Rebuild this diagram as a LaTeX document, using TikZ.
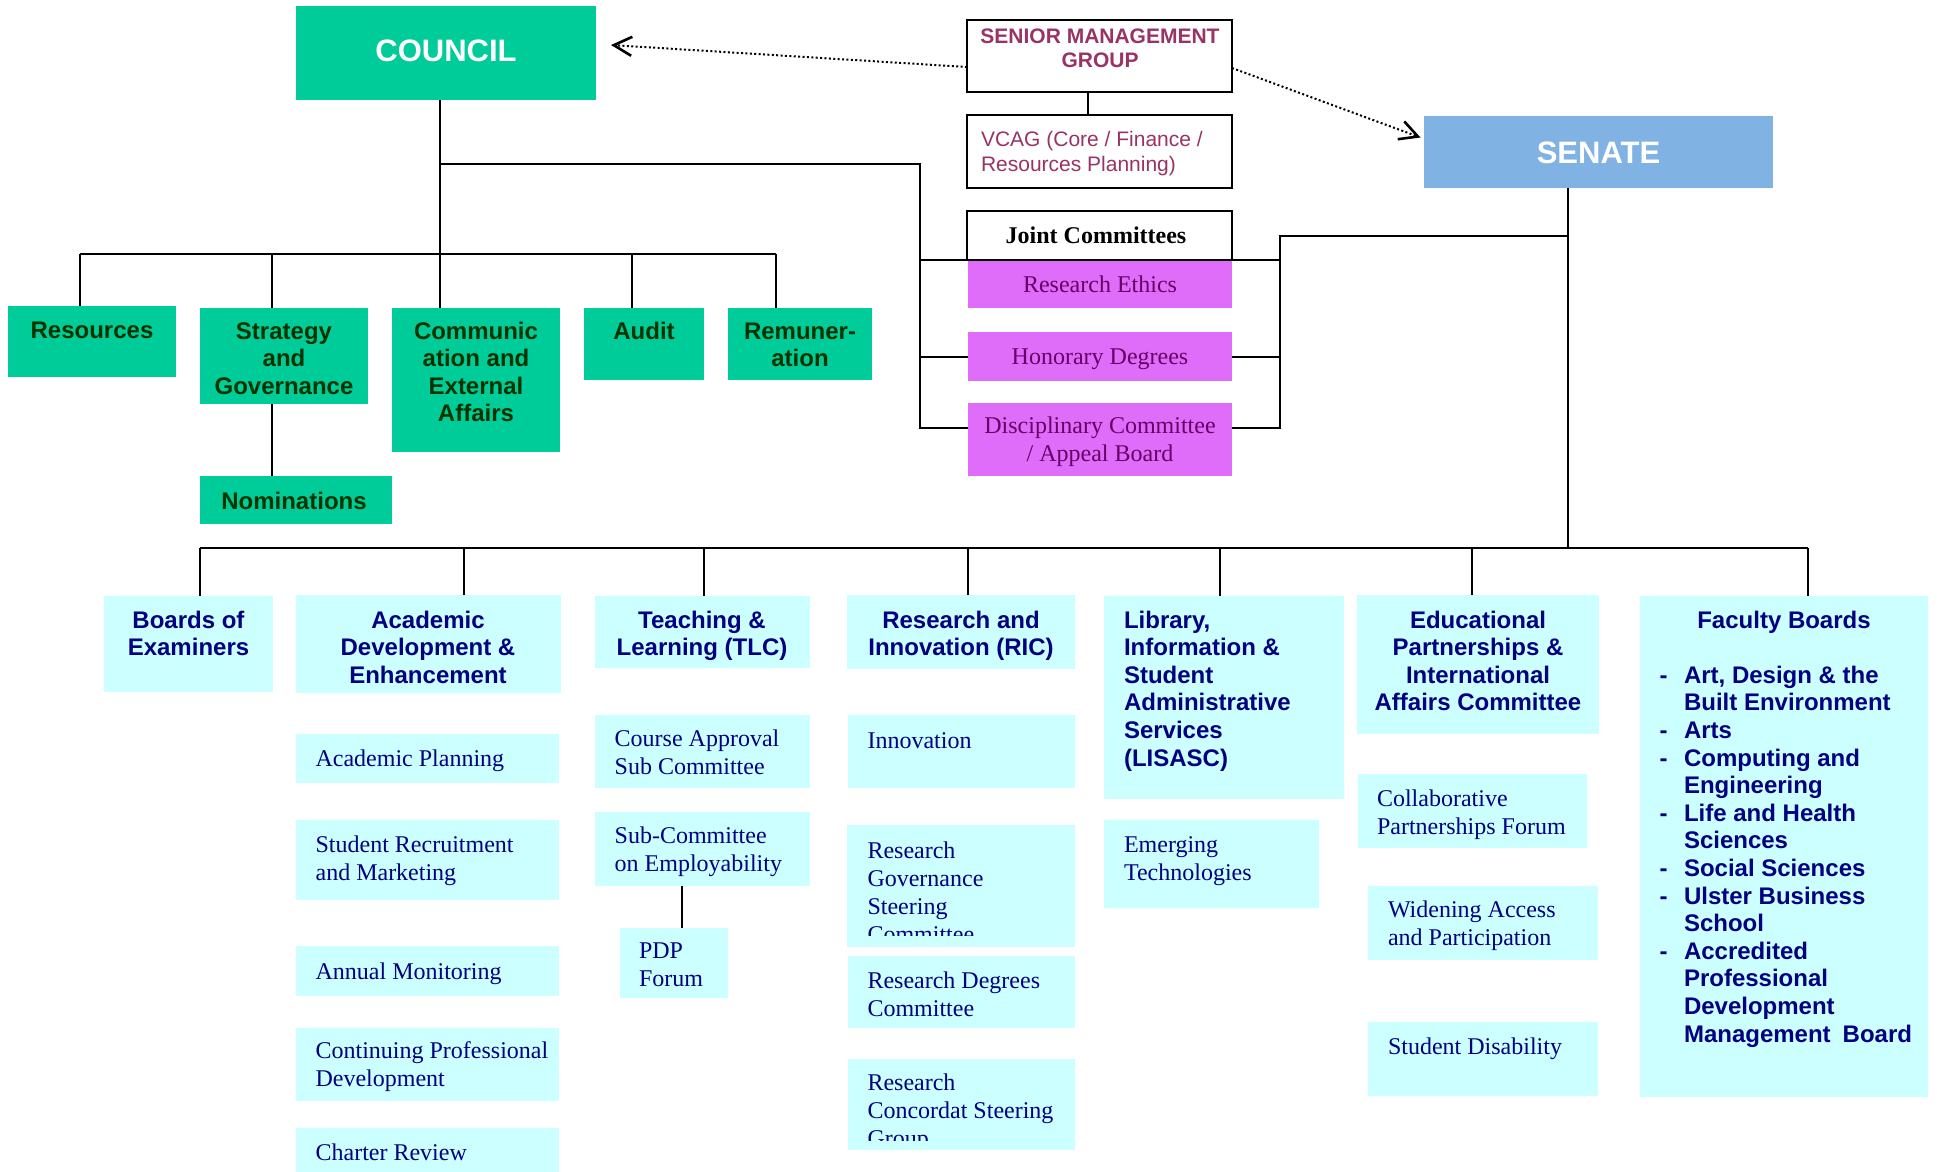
\documentclass[tikz,border=0pt]{standalone}
\usepackage{fontspec}
\setmainfont{Liberation Serif}
\newfontfamily\arialf{Liberation Sans}
\usetikzlibrary{arrows.meta}
\definecolor{gr}{RGB}{0,204,153}
\definecolor{sen}{RGB}{128,178,228}
\definecolor{mag}{RGB}{224,108,250}
\definecolor{cy}{RGB}{204,255,255}
\definecolor{navy}{RGB}{0,0,128}
\definecolor{smgc}{RGB}{153,51,102}
\definecolor{purp}{RGB}{102,0,102}
\definecolor{dgr}{RGB}{0,51,0}
\tikzset{
 box/.style={inner sep=0pt, outer sep=0pt},
 gbox/.style={box, fill=gr},
 cbox/.style={box, fill=cy},
 mbox/.style={box, fill=mag},
 wbox/.style={box, draw=black, line width=2.2pt, fill=white},
 sbox/.style={box, fill=sen},
 lbl/.style={inner sep=0pt, outer sep=0pt},
 big/.style={lbl, font=\arialf\bfseries\fontsize{31}{36}\selectfont, text=white},
 gtxt/.style={lbl, font=\arialf\bfseries\fontsize{24}{27.6}\selectfont, text=dgr, align=center},
 htxt/.style={lbl, font=\arialf\bfseries\fontsize{24}{27.6}\selectfont, text=navy, align=center},
 hltxt/.style={htxt, align=left},
 stxt/.style={lbl, font=\fontsize{24}{27.8}\selectfont, text=navy, align=left},
 jtxt/.style={lbl, font=\fontsize{24}{27.8}\selectfont, text=purp, align=center},
 conn/.style={line width=2pt},
 dots/.style={line width=2pt, dash pattern=on 2pt off 2.4pt, -{Straight Barb[length=18pt,width=19pt,line width=2.6pt]}},
}
\newcommand{\bx}[6]{\node[#6, anchor=north west, minimum width={(#4)-(#2)}, minimum height={(#5)-(#3)}] (#1) at (#2,#3) {};}
\begin{document}
\begin{tikzpicture}[x=1pt,y=-1pt]
\useasboundingbox (0,0) rectangle (1937,1171);
\fill[white] (0,0) rectangle (1937,1171);
% ---------- boxes ----------
\bx{council}{296}{6}{596}{100}{gbox}
\bx{smg}{967}{20}{1232}{92}{wbox}
\bx{vcag}{967}{115}{1232}{188}{wbox}
\bx{joint}{967}{211}{1232}{260}{wbox}
\bx{reseth}{968}{261}{1232}{308}{mbox}
\bx{hon}{968}{332}{1232}{381}{mbox}
\bx{disc}{968}{403}{1232}{476}{mbox}
\bx{senate}{1424}{116}{1773}{187.5}{sbox}
\bx{res}{8}{306}{176}{377}{gbox}
\bx{strat}{200}{308}{368}{404}{gbox}
\bx{comm}{392}{308}{560}{452}{gbox}
\bx{audit}{584}{308}{704}{380}{gbox}
\bx{remun}{728}{308}{872}{380}{gbox}
\bx{nomin}{200}{476}{392}{524}{gbox}
\bx{boards}{104}{596}{273}{691.5}{cbox}
\bx{acad}{295.5}{595}{561}{693}{cbox}
\bx{aplan}{296}{734}{559}{783}{cbox}
\bx{srec}{296}{820}{559}{900}{cbox}
\bx{amon}{296}{946}{559}{996}{cbox}
\bx{cpd}{296}{1028}{559}{1101}{cbox}
\bx{charter}{296}{1128}{559}{1185}{cbox}
\bx{teach}{595}{596}{809.5}{668}{cbox}
\bx{course}{595}{715}{809.5}{787.5}{cbox}
\bx{employ}{595}{812}{809.5}{886}{cbox}
\bx{pdp}{620}{928}{728}{998}{cbox}
\bx{ric}{847}{595}{1075}{668.6}{cbox}
\bx{innov}{848}{715}{1075}{787.5}{cbox}
\bx{rgov}{847}{825}{1075}{947}{cbox}
\bx{rdeg}{848}{956}{1075}{1027.5}{cbox}
\bx{rconc}{848}{1059}{1075}{1150}{cbox}
\bx{lib}{1104}{596}{1344}{799}{cbox}
\bx{emerg}{1104}{820}{1319}{908}{cbox}
\bx{edu}{1357}{595}{1599}{734}{cbox}
\bx{collab}{1358}{774}{1587}{848}{cbox}
\bx{widen}{1368}{886}{1597.5}{960}{cbox}
\bx{disab}{1368}{1022}{1597.5}{1096}{cbox}
\bx{faculty}{1640}{596}{1928}{1097}{cbox}
% ---------- texts ----------
\node[big, anchor=base] (t-council) at (446,61.4) {COUNCIL};
\node[big, anchor=base] (t-senate) at (1598.5,163.6) {SENATE};
\node[lbl, font=\arialf\bfseries\fontsize{21}{24}\selectfont, text=smgc, align=center, anchor=north] (t-smg) at (1100,26.2) {\strut SENIOR MANAGEMENT\\GROUP};
\node[lbl, font=\arialf\fontsize{21}{25}\selectfont, text=smgc, align=left, anchor=north west] (t-vcag) at (981,128.5) {\strut VCAG (Core / Finance /\\Resources Planning)};
\node[lbl, font=\bfseries\fontsize{24}{27.8}\selectfont, anchor=base] (t-joint) at (1096,243) {Joint Committees};
\node[jtxt, anchor=base] (t-reseth) at (1100,292) {Research Ethics};
\node[jtxt, anchor=base] (t-hon) at (1100,364) {Honorary Degrees};
\node[jtxt, anchor=north] (t-disc) at (1100,414.4) {\strut Disciplinary Committee\\/ Appeal Board};
\node[gtxt, anchor=base] (t-res) at (92,338.6) {Resources};
\node[gtxt, anchor=north] (t-strat) at (284,319.7) {\strut Strategy\\and\\Governance};
\node[gtxt, anchor=north] (t-comm) at (476,319.7) {\strut Communic\\ation and\\External\\Affairs};
\node[gtxt, anchor=base] (t-audit) at (644,339) {Audit};
\node[gtxt, anchor=north] (t-remun) at (800,319.7) {\strut Remuner-\\ation};
\node[gtxt, anchor=base] (t-nomin) at (294,509) {Nominations};
\node[htxt, anchor=north] (t-boards) at (188.5,608.7) {\strut Boards of\\Examiners};
\node[htxt, anchor=north] (t-acad) at (428,608.7) {\strut Academic\\Development \&\\Enhancement};
\node[htxt, anchor=north] (t-teach) at (702,608.7) {\strut Teaching \&\\Learning (TLC)};
\node[htxt, anchor=north] (t-ric) at (961,608.7) {\strut Research and\\Innovation (RIC)};
\node[hltxt, anchor=north west] (t-lib) at (1124,608.7) {\strut Library,\\Information \&\\Student\\Administrative\\Services\\(LISASC)};
\node[htxt, anchor=north] (t-edu) at (1478,608.7) {\strut Educational\\Partnerships \&\\International\\Affairs Committee};
\node[htxt, anchor=base] (t-fac) at (1784,628) {Faculty Boards};
\node[hltxt, anchor=north west] (t-faclist) at (1684,664) {\strut Art, Design \& the\\Built Environment\\Arts\\Computing and\\Engineering\\Life and Health\\Sciences\\Social Sciences\\Ulster Business\\School\\Accredited\\Professional\\Development\\Management\hspace{0.5em}Board};
\foreach \n [count=\i] in {1,3,4,6,8,9,11}
  \node[htxt, anchor=base] (dash\i) at (1663.5,{683.3+(\n-1)*27.6}) {-};
\node[stxt, anchor=base west] (t-aplan) at (315.6,766) {Academic Planning};
\node[stxt, anchor=north west] (t-srec) at (315.6,833.5) {\strut Student Recruitment\\and Marketing};
\node[stxt, anchor=base west] (t-amon) at (315.6,979) {Annual Monitoring};
\node[stxt, anchor=north west] (t-cpd) at (315.6,1039.1) {\strut Continuing Professional\\Development};
\node[stxt, anchor=base west] (t-charter) at (315.6,1160) {Charter Review};
\node[stxt, anchor=north west] (t-course) at (614.7,727.2) {\strut Course Approval\\Sub Committee};
\node[stxt, anchor=north west] (t-employ) at (614.7,824.5) {\strut Sub-Committee\\on Employability};
\node[stxt, anchor=north west] (t-pdp) at (639,939.5) {\strut PDP\\Forum};
\node[stxt, anchor=base west] (t-innov) at (867.5,748.7) {Innovation};
\begin{scope}
\clip (847,825) rectangle (1075,935);
\node[stxt, anchor=north west] (t-rgov) at (867.5,839.5) {\strut Research\\Governance\\Steering\\Committee};
\end{scope}
\node[stxt, anchor=north west] (t-rdeg) at (867.5,969.2) {\strut Research Degrees\\Committee};
\begin{scope}
\clip (848,1059) rectangle (1075,1140.4);
\node[stxt, anchor=north west] (t-rconc) at (867.5,1071.5) {\strut Research\\Concordat Steering\\Group};
\end{scope}
\node[stxt, anchor=north west] (t-emerg) at (1124,833.5) {\strut Emerging\\Technologies};
\node[stxt, anchor=north west] (t-collab) at (1377,787.3) {\strut Collaborative\\Partnerships Forum};
\node[stxt, anchor=north west] (t-widen) at (1388,898.1) {\strut Widening Access\\and Participation};
\node[stxt, anchor=base west] (t-disab) at (1388,1054) {Student Disability};
% ---------- connectors: council side ----------
\coordinate (cj) at (440,254);
\coordinate (cb1) at (80,254);
\coordinate (cb2) at (272,254);
\coordinate (cb4) at (632,254);
\coordinate (cb5) at (776,254);
\draw[conn] (council.south -| cj) -- (cj);
\draw[conn] (cb1) -- (cb5);
\draw[conn] (cb1) -- (cb1 |- res.north);
\draw[conn] (cb2) -- (cb2 |- strat.north);
\draw[conn] (cj) -- (cj |- comm.north);
\draw[conn] (cb4) -- (cb4 |- audit.north);
\draw[conn] (cb5) -- (cb5 |- remun.north);
\draw[conn] (strat.south -| cb2) -- (nomin.north -| cb2);
% ---------- joint committees ----------
\coordinate (jt) at (440,164);
\coordinate (jr) at (920,164);
\coordinate (jb) at (920,427.5);
\coordinate (rr) at (1280,236);
\coordinate (rb) at (1280,427.5);
\coordinate (sl) at (1568,236);
\draw[conn] (jt) -- (jr) -- (jb) -- (jb -| disc.west);
\draw[conn] (disc.east |- rb) -- (rb) -- (rr) -- (sl);
\draw[conn] (jr |- joint.south) -- (rr |- joint.south);
\draw[conn] (jr |- hon.west) -- (hon.west);
\draw[conn] (hon.east) -- (rr |- hon.east);
\coordinate (sc) at (1088,100);
\draw[conn] (smg.south -| sc) -- (vcag.north -| sc);
% ---------- senate side ----------
\coordinate (sv) at (1568,547.5);
\draw[conn] (senate.south -| sv) -- (sv);
\coordinate (bb1) at (200,547.5);
\coordinate (bb2) at (464,547.5);
\coordinate (bb3) at (704,547.5);
\coordinate (bb4) at (968,547.5);
\coordinate (bb5) at (1220,547.5);
\coordinate (bb6) at (1472,547.5);
\coordinate (bb7) at (1808,547.5);
\draw[conn] (bb1) -- (bb7);
\draw[conn] (bb1) -- (bb1 |- boards.north);
\draw[conn] (bb2) -- (bb2 |- acad.north);
\draw[conn] (bb3) -- (bb3 |- teach.north);
\draw[conn] (bb4) -- (bb4 |- ric.north);
\draw[conn] (bb5) -- (bb5 |- lib.north);
\draw[conn] (bb6) -- (bb6 |- edu.north);
\draw[conn] (bb7) -- (bb7 |- faculty.north);
\coordinate (pc) at (682,900);
\draw[conn] (employ.south -| pc) -- (pdp.north -| pc);
% ---------- dotted arrows ----------
\draw[dots] ([yshift=-11pt]smg.west) -- ([xshift=15pt,yshift=8pt]council.east);
\draw[dots] ([yshift=-12pt]smg.east) -- ([xshift=-3.5pt,yshift=-21.5pt]senate.north west);
\end{tikzpicture}
\end{document}
